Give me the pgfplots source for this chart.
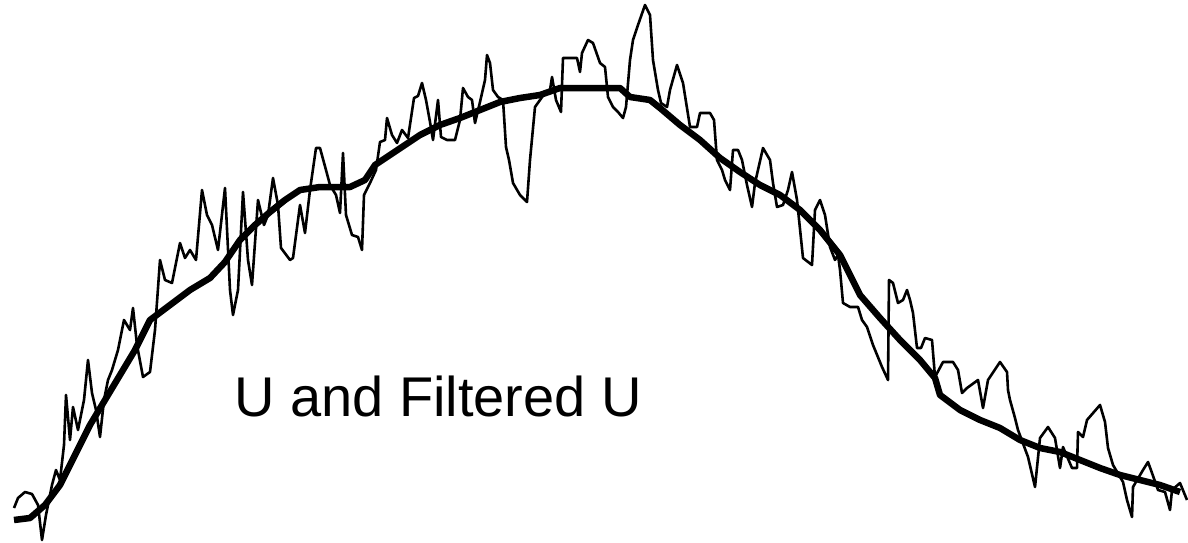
\documentclass[border=0pt]{standalone}
\usepackage{pgfplots}
\pgfplotsset{compat=1.18}
\usepackage{fontspec}
\setmainfont{Liberation Sans}
\begin{document}
\begin{tikzpicture}
\begin{axis}[
  scale only axis, width=1188pt, height=543pt,
  xmin=0, xmax=1188, ymin=0, ymax=543, y dir=reverse,
  hide axis, clip=true,
]
\path (rel axis cs:0,0) rectangle (rel axis cs:1,1);
% noisy U
\addplot[black, line width=2.6pt, line join=round, mark=none] coordinates {
(14,508) (18,498) (25,492) (32,494) (38,505) (42,540) (46,515) (52,485) (56,470) (60,480) (64,445) (66,395) (70,440) (73,407) (78,430) (84,400) (88,360) (92,393) (96,410) (100,437) (104,400) (108,380) (112,370) (118,350) (124,320) (130,330) (133,308) (137,345) (143,377) (150,372) (155,330) (160,260) (165,280) (172,283) (180,243) (185,258) (190,250) (196,260) (202,190) (207,215) (212,225) (218,250) (225,188) (230,290) (233,315) (238,290) (243,192) (248,260) (252,285) (258,200) (264,225) (268,215) (273,178) (278,205) (281,248) (290,260) (293,258) (300,205) (305,233) (310,190) (316,148) (320,148) (326,170) (330,185) (336,195) (340,213) (343,153) (346,215) (352,235) (358,237) (362,250) (364,195) (370,183) (376,170) (380,142) (385,140) (387,118) (392,135) (397,143) (402,130) (408,138) (414,98) (418,96) (422,83) (426,100) (430,122) (433,140) (438,100) (441,137) (447,140) (455,140) (460,120) (463,88) (468,97) (472,100) (475,123) (480,102) (485,80) (487,55) (490,63) (493,90) (498,97) (503,100) (506,147) (509,160) (513,183) (520,195) (527,202) (530,160) (535,107) (540,100) (545,93) (550,90) (552,77) (556,100) (561,112) (563,58) (570,58) (577,58) (580,72) (582,53) (588,40) (593,43) (600,63) (605,67) (608,97) (613,107) (618,112) (623,118) (626,107) (630,60) (633,40) (638,25) (645,5) (650,15) (653,60) (658,90) (661,103) (667,107) (670,90) (677,65) (683,83) (690,127) (697,127) (700,113) (703,113) (710,113) (714,120) (717,160) (722,170) (725,180) (730,190) (733,150) (738,150) (742,160) (747,185) (752,207) (755,183) (763,148) (770,160) (773,183) (777,207) (783,205) (788,190) (792,172) (797,200) (803,258) (812,265) (815,210) (820,200) (825,215) (830,247) (835,260) (838,255) (840,270) (843,303) (850,307) (858,307) (862,320) (867,327) (873,345) (882,367) (888,380) (889,280) (893,283) (898,303) (903,300) (907,290) (910,300) (913,313) (917,348) (921,348) (925,338) (932,340) (935,377) (943,362) (953,362) (958,370) (962,393) (967,388) (978,380) (983,408) (988,380) (1000,362) (1007,372) (1008,390) (1010,400) (1015,418) (1018,430) (1028,457) (1035,487) (1040,438) (1048,427) (1055,438) (1060,468) (1063,447) (1072,468) (1077,468) (1078,432) (1083,437) (1087,420) (1100,405) (1105,422) (1108,448) (1113,465) (1123,482) (1127,500) (1132,517) (1133,487) (1143,470) (1148,462) (1152,473) (1158,490) (1165,492) (1170,510) (1172,490) (1180,483) (1187,500)
};
% filtered U
\addplot[black, line width=6.5pt, line join=round, mark=none] coordinates {
(14,520) (30,518) (45,505) (60,485) (75,455) (90,425) (105,400) (120,375) (135,350) (150,320) (170,305) (190,290) (210,278) (225,262) (240,240) (255,225) (270,212) (285,200) (300,190) (320,187) (350,187) (365,180) (375,165) (390,155) (405,145) (420,135) (440,125) (460,118) (480,110) (500,102) (520,98) (540,95) (560,88) (580,88) (600,88) (620,88) (630,97) (650,100) (660,108) (680,125) (700,140) (720,158) (740,172) (760,185) (780,195) (800,210) (820,230) (840,255) (850,275) (860,295) (880,318) (900,340) (920,360) (935,378) (940,395) (960,410) (980,420) (1000,428) (1020,440) (1040,448) (1060,452) (1080,460) (1100,468) (1120,475) (1140,480) (1160,485) (1180,492)
};
\node[font=\fontsize{56}{60}\selectfont, inner sep=0pt] at (axis cs:438,396) {U and Filtered U};
\end{axis}
\end{tikzpicture}
\end{document}
